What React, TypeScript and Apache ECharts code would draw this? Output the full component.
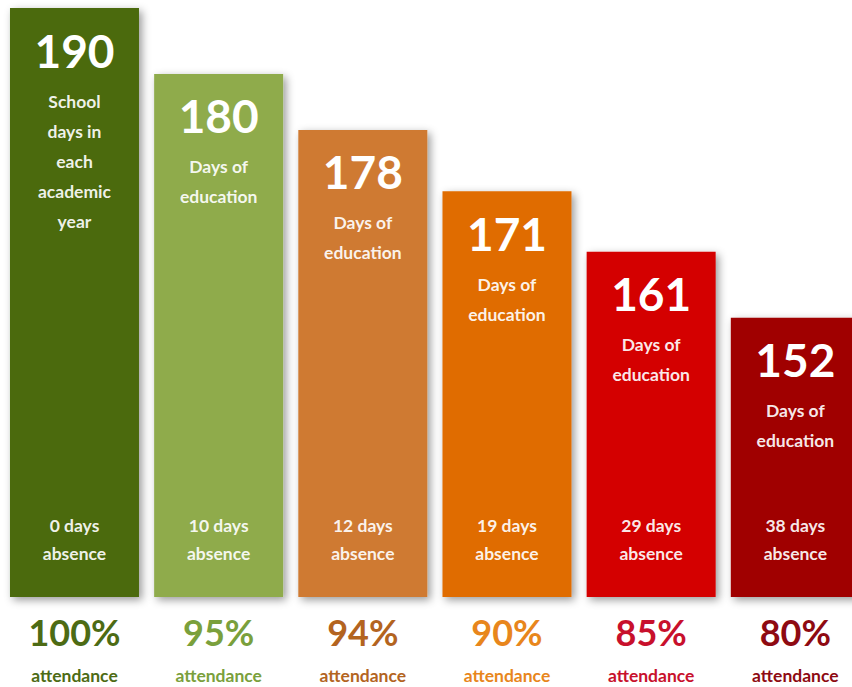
import React, { useEffect, useRef } from "react";
import * as echarts from "echarts";

// Data
const attendance = ["100%", "95%", "94%", "90%", "85%", "80%"];
const daysOfEducation = [190, 180, 178, 171, 161, 152];
const absenceDays = [0, 10, 12, 19, 29, 38];
const captions = [
  "School\ndays in\neach\nacademic\nyear",
  "Days of\neducation",
  "Days of\neducation",
  "Days of\neducation",
  "Days of\neducation",
  "Days of\neducation",
];
// apparent bar heights in the infographic (% of the tallest bar)
const barHeights = [100, 88.8, 79.3, 68.9, 58.6, 47.4];

const barColors = ["#4b6b0c", "#8fab4b", "#cf7a30", "#e06c06", "#d40303", "#a00303"];
const pctColors = ["#4d6b14", "#7aa03c", "#b3641f", "#e8861c", "#c8102c", "#8e0a12"];

const FONT = 'Lato, "Noto Sans", sans-serif';

export default function App() {
  const ref = useRef<HTMLDivElement>(null);
  useEffect(() => {
    if (!ref.current) return;
    const chart = echarts.init(ref.current, undefined, { renderer: "svg" });
    const rich: Record<string, any> = {};
    attendance.forEach((_, i) => {
      rich["p" + i] = { color: pctColors[i], fontSize: 36, fontWeight: "bold", fontFamily: FONT, lineHeight: 40 };
      rich["a" + i] = { color: pctColors[i], fontSize: 17.5, fontWeight: "bold", fontFamily: FONT, lineHeight: 46 };
    });
    chart.setOption({
      animation: false,
      backgroundColor: "#ffffff",
      grid: { left: 2.4, top: 8, width: 865, height: 589 },
      xAxis: {
        type: "category",
        data: attendance,
        axisLine: { show: false },
        axisTick: { show: false },
        axisLabel: {
          margin: 15,
          interval: 0,
          formatter: (v: string, i: number) => `{p${i}|${v}}\n{a${i}|attendance}`,
          rich,
        },
      },
      yAxis: { type: "value", min: 0, max: 100, show: false },
      series: [
        {
          type: "bar",
          barWidth: 129,
          data: barHeights.map((h, i) => ({
            value: h,
            itemStyle: {
              color: barColors[i],
              shadowBlur: 8,
              shadowColor: "rgba(0,0,0,0.4)",
              shadowOffsetX: 3,
              shadowOffsetY: 3,
            },
          })),
          label: {
            show: true,
            position: "insideTop",
            distance: 6,
            formatter: (p: any) =>
              `{n|${daysOfEducation[p.dataIndex]}}\n` +
              captions[p.dataIndex]
                .split("\n")
                .map((s) => `{s|${s}}`)
                .join("\n"),
            rich: {
              n: { color: "#ffffff", fontSize: 46, fontWeight: "bold", fontFamily: FONT, lineHeight: 72 },
              s: { color: "rgba(255,255,255,0.92)", fontSize: 17.5, fontWeight: "bold", fontFamily: FONT, lineHeight: 30 },
            },
          },
        },
        {
          type: "bar",
          barWidth: 129,
          barGap: "-100%",
          data: barHeights,
          itemStyle: { color: "rgba(0,0,0,0)" },
          silent: true,
          label: {
            show: true,
            position: "insideBottom",
            distance: 30,
            formatter: (p: any) => `{s|${absenceDays[p.dataIndex]} days}\n{s|absence}`,
            rich: {
              s: { color: "rgba(255,255,255,0.92)", fontSize: 17.5, fontWeight: "bold", fontFamily: FONT, lineHeight: 28 },
            },
          },
        },
      ],
    });
    return () => chart.dispose();
  }, []);
  return (
    <div style={{ position: "absolute", left: 0, top: 0, width: 852, height: 687, overflow: "hidden" }}>
      <div ref={ref} style={{ width: 870, height: 687 }} />
    </div>
  );
}
